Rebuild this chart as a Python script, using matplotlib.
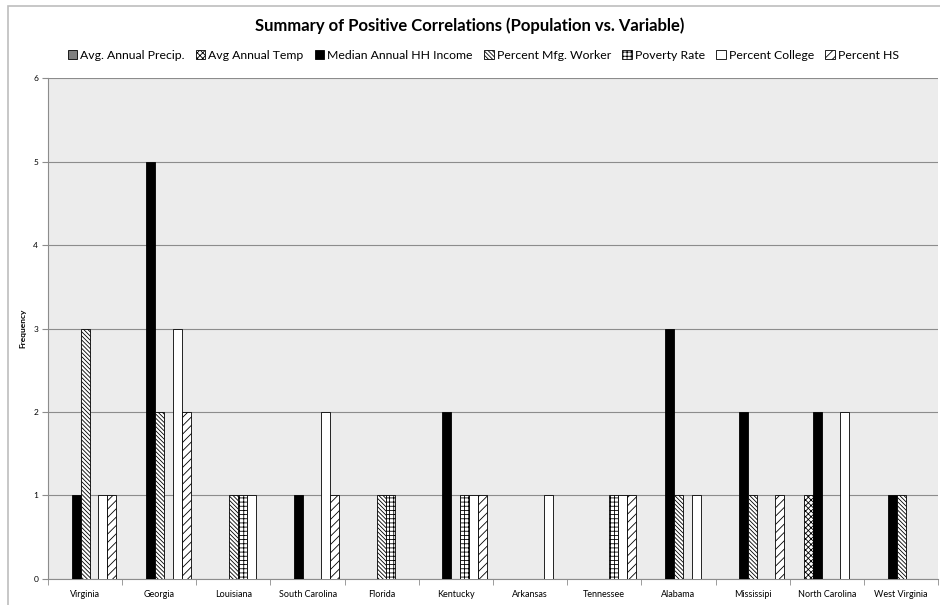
import numpy as np
import matplotlib
matplotlib.use('Agg')
import matplotlib.pyplot as plt
from matplotlib.patches import Patch, Rectangle

plt.rcParams['font.family'] = ['Lato', 'DejaVu Sans']
plt.rcParams['hatch.linewidth'] = 0.6

states = ['Virginia', 'Georgia', 'Louisiana', 'South Carolina', 'Florida', 'Kentucky',
          'Arkansas', 'Tennessee', 'Alabama', 'Mississipi', 'North Carolina', 'West Virginia']

precip  = [0, 0, 0, 0, 0, 0, 0, 0, 0, 0, 0, 0]
temp    = [0, 0, 0, 0, 0, 0, 0, 0, 0, 0, 1, 0]
income  = [1, 5, 0, 1, 0, 2, 0, 0, 3, 2, 2, 1]
mfg     = [3, 2, 1, 0, 1, 0, 0, 0, 1, 1, 0, 1]
poverty = [0, 0, 1, 0, 1, 1, 0, 1, 0, 0, 0, 0]
college = [1, 3, 1, 2, 0, 1, 1, 1, 1, 0, 2, 0]
hs      = [1, 2, 0, 1, 0, 1, 0, 1, 0, 1, 0, 0]

series = ['Avg. Annual Precip.', 'Avg Annual Temp', 'Median Annual HH Income',
          'Percent Mfg. Worker', 'Poverty Rate', 'Percent College', 'Percent HS']
values = [precip, temp, income, mfg, poverty, college, hs]

# face colour, hatch pattern for each series
styles = [('#808080', ''), ('white', 'xxxxxx'), ('black', ''), ('white', '\\' * 8),
          ('white', '++++'), ('white', ''), ('white', '////')]

fig = plt.figure(figsize=(9.4, 6.05), dpi=100)
ax = fig.add_axes([0.051, 0.043, 0.947, 0.828])
ax.set_facecolor('#ececec')

x = np.arange(len(states))
w = 0.121
for i, (vals, (fc, hatch)) in enumerate(zip(values, styles)):
    pos = x + (i - 3) * w
    ax.bar(pos, vals, w, color=fc, hatch=hatch, edgecolor='black', linewidth=0.6, zorder=3)

ax.set_ylim(0, 6)
ax.set_xlim(-0.5, len(states) - 0.5)
ax.set_yticks(range(7))
ax.yaxis.grid(True, color='#8c8c8c', linewidth=0.8, zorder=0)
ax.tick_params(axis='y', labelsize=6, length=4, color='#8c8c8c', pad=3)
ax.set_xticks(x)
ax.set_xticklabels(states, fontsize=6.5)
ax.tick_params(axis='x', length=0, pad=8)
ax.set_xticks(np.arange(-0.5, len(states)), minor=True)
ax.tick_params(axis='x', which='minor', length=4, color='#8c8c8c')
for s in ['top', 'right']:
    ax.spines[s].set_visible(False)
for s in ['left', 'bottom']:
    ax.spines[s].set_color('#8c8c8c')

ax.set_ylabel('Frequency', fontsize=6, fontweight='bold', labelpad=5)

handles = [Patch(facecolor=fc, hatch=h, edgecolor='black', linewidth=0.6)
           for fc, h in styles]
fig.legend(handles, series, loc='center', bbox_to_anchor=(0.514, 0.909), ncol=7,
           frameon=False, fontsize=8.8, handlelength=0.75, handleheight=0.75,
           handletextpad=0.25, columnspacing=0.95)

fig.suptitle('Summary of Positive Correlations (Population vs. Variable)',
             y=0.971, fontsize=12, fontweight='bold')

# chart frame
fig.patches.append(Rectangle((0.008, -0.01), 1.0, 1.0, transform=fig.transFigure,
                             fill=False, edgecolor='#bdbdbd', linewidth=1.2))

fig.savefig('out.png', dpi=100)
